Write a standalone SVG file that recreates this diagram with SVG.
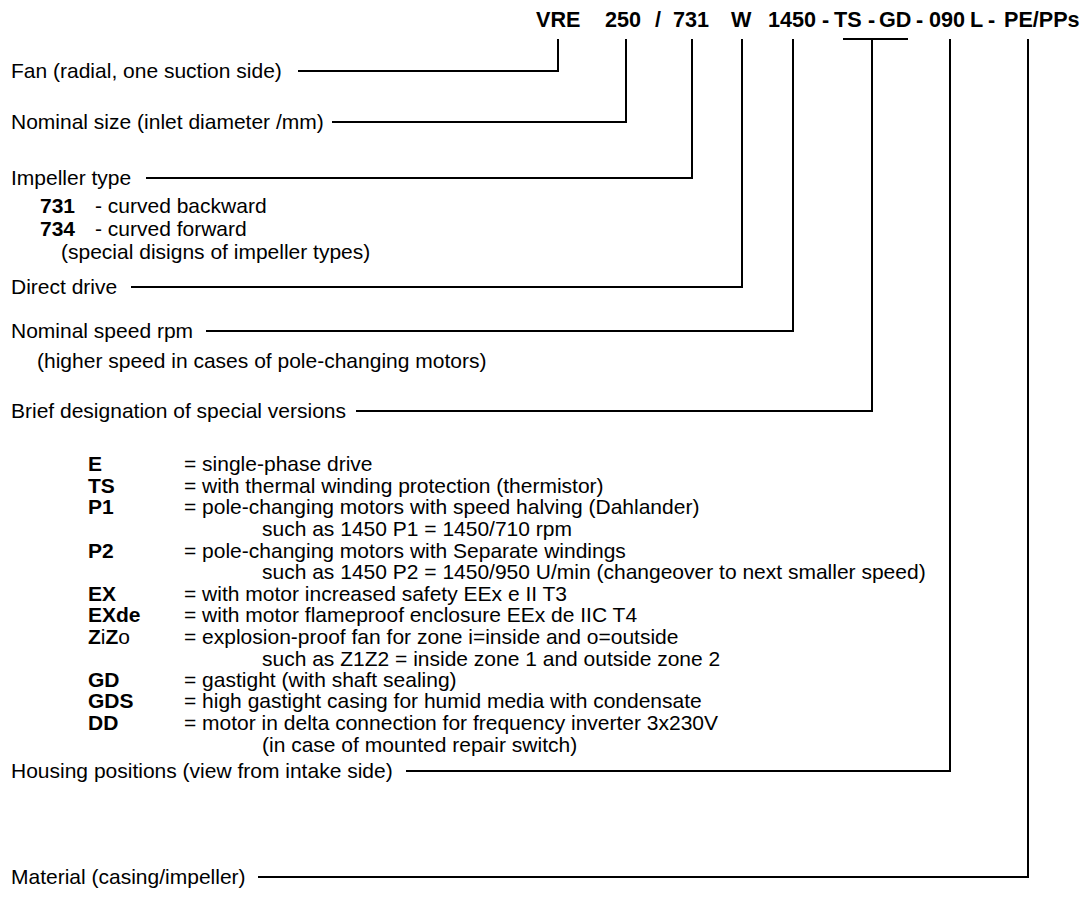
<svg xmlns="http://www.w3.org/2000/svg" width="1086" height="917" viewBox="0 0 1086 917">
<style>
text{font-family:"Liberation Sans",Arial,sans-serif;font-size:21px;fill:#000}
.b{font-weight:bold}
.h{font-weight:bold;font-size:21.6px}
.ln{fill:none;stroke:#000;stroke-width:2}
</style>
<rect width="1086" height="917" fill="#fff"/>
<g id="header">
<text class="h" y="27"><tspan x="536">VRE</tspan><tspan x="605">250</tspan><tspan x="655">/</tspan><tspan x="673">731</tspan><tspan x="731">W</tspan><tspan x="768">1450</tspan><tspan x="822">-</tspan><tspan x="834">TS</tspan><tspan x="868">-</tspan><tspan x="879">GD</tspan><tspan x="916">-</tspan><tspan x="929">090</tspan><tspan x="970">L</tspan><tspan x="988">-</tspan><tspan x="1004">PE/PPs</tspan></text>
</g>
<g id="connectors">
<polyline class="ln" points="298,71 558,71 558,39"/>
<polyline class="ln" points="332,122 626,122 626,39"/>
<polyline class="ln" points="146,178 692,178 692,39"/>
<polyline class="ln" points="131,287 742,287 742,39"/>
<polyline class="ln" points="206,331 793,331 793,39"/>
<polyline class="ln" points="356,411 872,411 872,39"/>
<line class="ln" x1="843" y1="39" x2="908" y2="39"/>
<polyline class="ln" points="406,771 950,771 950,39"/>
<polyline class="ln" points="258,877 1028,877 1028,39"/>
</g>
<g id="fan"><text x="11" y="78">Fan (radial, one suction side)</text></g>
<g id="size"><text x="11" y="129">Nominal size (inlet diameter /mm)</text></g>
<g id="impeller">
<text x="11" y="185">Impeller type</text>
<text y="213"><tspan class="b" x="40">731</tspan><tspan x="95">- curved backward</tspan></text>
<text y="236"><tspan class="b" x="40">734</tspan><tspan x="95">- curved forward</tspan></text>
<text x="61" y="259">(special disigns of impeller types)</text>
</g>
<g id="drive"><text x="11" y="294">Direct drive</text></g>
<g id="speed">
<text x="11" y="338">Nominal speed rpm</text>
<text x="37" y="368">(higher speed in cases of pole-changing motors)</text>
</g>
<g id="special">
<text x="11" y="418">Brief designation of special versions</text>
<text class="b" x="88" y="471">E</text><text x="184" y="471">= single-phase drive</text>
<text class="b" x="88" y="493">TS</text><text x="184" y="493">= with thermal winding protection (thermistor)</text>
<text class="b" x="88" y="514">P1</text><text x="184" y="514">= pole-changing motors with speed halving (Dahlander)</text>
<text x="262" y="536">such as 1450 P1 = 1450/710 rpm</text>
<text class="b" x="88" y="558">P2</text><text x="184" y="558">= pole-changing motors with Separate windings</text>
<text x="262" y="579">such as 1450 P2 = 1450/950 U/min (changeover to next smaller speed)</text>
<text class="b" x="88" y="601">EX</text><text x="184" y="601">= with motor increased safety EEx e II T3</text>
<text class="b" x="88" y="622">EXde</text><text x="184" y="622">= with motor flameproof enclosure EEx de IIC T4</text>
<text x="88" y="644"><tspan class="b">Z</tspan>i<tspan class="b">Z</tspan>o</text><text x="184" y="644">= explosion-proof fan for zone i=inside and o=outside</text>
<text x="262" y="666">such as Z1Z2 = inside zone 1 and outside zone 2</text>
<text class="b" x="88" y="687">GD</text><text x="184" y="687">= gastight (with shaft sealing)</text>
<text class="b" x="88" y="708">GDS</text><text x="184" y="708">= high gastight casing for humid media with condensate</text>
<text class="b" x="88" y="730">DD</text><text x="184" y="730">= motor in delta connection for frequency inverter 3x230V</text>
<text x="262" y="752">(in case of mounted repair switch)</text>
</g>
<g id="housing"><text x="11" y="778">Housing positions (view from intake side)</text></g>
<g id="material"><text x="11" y="884">Material (casing/impeller)</text></g>
</svg>
